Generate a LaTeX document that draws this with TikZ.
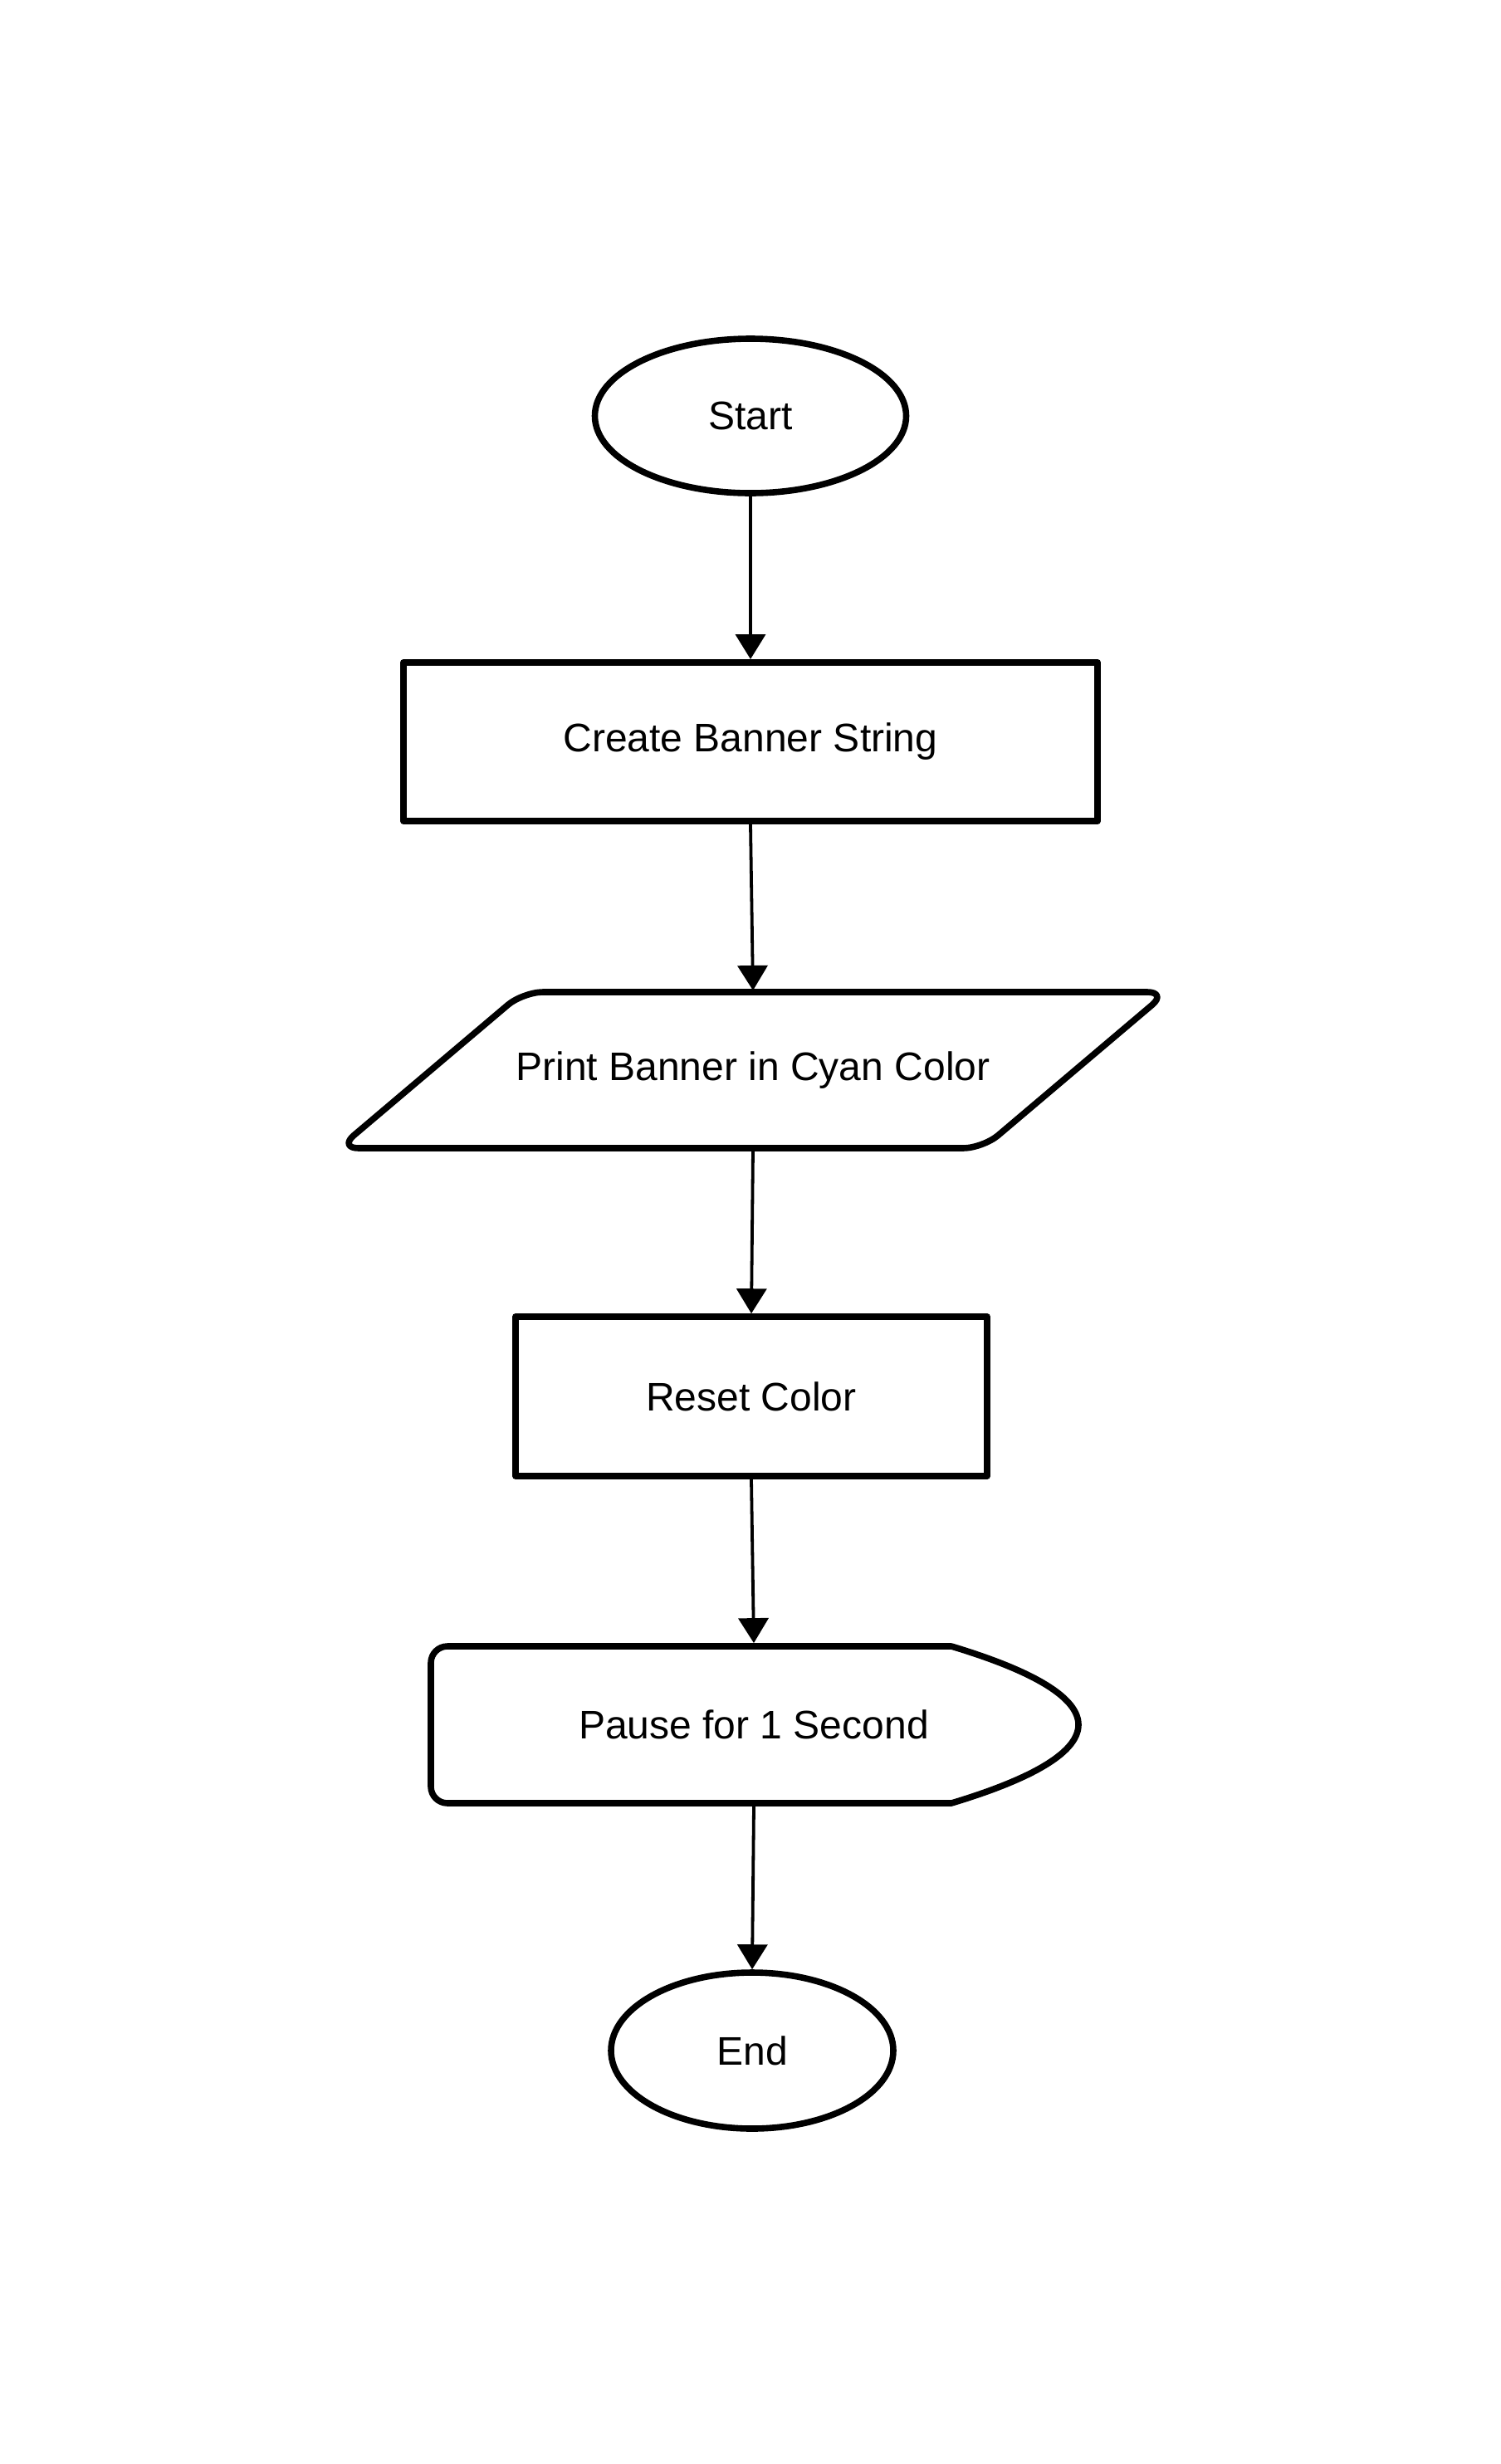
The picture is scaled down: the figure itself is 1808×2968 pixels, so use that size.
\documentclass[tikz,border=0pt]{standalone}
\usepackage{fontspec}
\setmainfont{Liberation Sans}
\usetikzlibrary{shapes.geometric,arrows.meta}
\begin{document}
\begin{tikzpicture}[x=0.5pt,y=-0.5pt,
  shapeline/.style={draw=black,line width=3.8pt,line join=round},
  term/.style={shapeline,ellipse,inner sep=0pt},
  proc/.style={shapeline,rectangle,inner sep=0pt},
  lbl/.style={font=\fontsize{24}{28}\selectfont},
  ghost/.style={inner sep=0pt,outer sep=0pt},
  conn/.style={draw=black,line width=1.9pt,-{Triangle[length=15pt,width=18pt]}},
]
\path[use as bounding box] (0,0) rectangle (1808,2968);
\fill[white] (0,0) rectangle (1808,2968);

\node[term,lbl,minimum width=187.5pt,minimum height=93pt] (start) at (904,501) {Start};
\node[proc,lbl,minimum width=418pt,minimum height=95.7pt] (create) at (904,893.5) {Create Banner String};

\node[ghost,lbl,minimum width=504pt,minimum height=96pt] (print) at (907,1289) {Print Banner in Cyan Color};
\draw[shapeline,rounded corners=12pt] (1016,1195) -- (1406,1195) -- (1184,1383) -- (408,1383) -- (630,1195) -- cycle;

\node[proc,lbl,minimum width=284pt,minimum height=96pt] (reset) at (905,1682) {Reset Color};

\node[ghost,lbl,minimum width=393pt,minimum height=98.4pt] (pause) at (908,2077.5) {Pause for 1 Second};
\draw[shapeline] (800,1983) -- (1146,1983) .. controls (1249,2014) and (1299,2046) .. (1299,2077.5) .. controls (1299,2109) and (1249,2141) .. (1146,2172) [rounded corners=10pt] -- (519,2172) -- (519,1983) -- cycle;

\node[term,lbl,minimum width=170pt,minimum height=94pt] (end) at (906,2470) {End};

\draw[conn] (start.south) -- (create.north);
\draw[conn] (create.south) -- (print.north);
\draw[conn] (print.south) -- (reset.north);
\draw[conn] (reset.south) -- (pause.north);
\draw[conn] (pause.south) -- (end.north);
\end{tikzpicture}
\end{document}
